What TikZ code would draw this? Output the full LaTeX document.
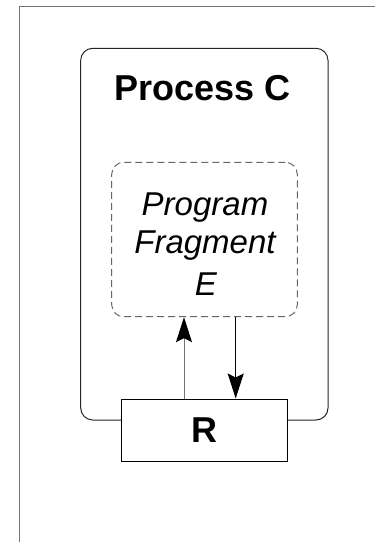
\documentclass[tikz,border=0pt]{standalone}
\usepackage{fontspec}
\setmainfont{Liberation Sans}
\usetikzlibrary{arrows.meta}
\begin{document}
\begin{tikzpicture}[x=1pt,y=-1pt,
  frame/.style={draw=black!55, line width=1pt},
  procbox/.style={draw=black!85, line width=1pt, rounded corners=12pt, minimum width=247.3pt, minimum height=371.7pt, inner sep=0pt},
  fragbox/.style={draw=black!60, line width=1pt, dash pattern=on 7pt off 4pt, rounded corners=12pt, minimum width=185.6pt, minimum height=154.4pt, inner sep=0pt},
  rbox/.style={draw=black, fill=white, line width=1pt, minimum width=165.6pt, minimum height=62.7pt, inner sep=0pt, font=\fontsize{36}{40}\selectfont\bfseries},
  title/.style={font=\fontsize{36}{40}\selectfont\bfseries, inner sep=0pt, anchor=base},
  fragtxt/.style={font=\fontsize{33}{40}\selectfont\itshape, inner sep=0pt, anchor=base},
  arr/.style={line width=1pt, -{Stealth[length=25pt, width=16pt, inset=4pt, color=black]}}
]
\useasboundingbox (0,0) rectangle (375,542);
\coordinate (fbl) at (19,542);
\coordinate (ftl) at (19,6);
\coordinate (ftr) at (375,6);
\draw[frame] (fbl) -- (ftl) -- (ftr);

\node[procbox] (proc) at (204.35,234.15) {};
\node[title] (ptitle) at (202.5,100) {Process C};

\node[fragbox] (frag) at (204.5,239.5) {};
\node[fragtxt] (l1) at (205,215) {Program};
\node[fragtxt] (l2) at (205,253) {Fragment};
\node[fragtxt] (l3) at (206,295) {E};

\node[rbox] (R) at (204.5,430.35) {R};

\draw[arr, draw=black!55] ([xshift=-20.5pt]R.north) -- ([xshift=-20.5pt]R.north |- frag.south);
\draw[arr, draw=black] ([xshift=31.2pt]R.north |- frag.south) -- ([xshift=31.2pt]R.north);
\end{tikzpicture}
\end{document}
